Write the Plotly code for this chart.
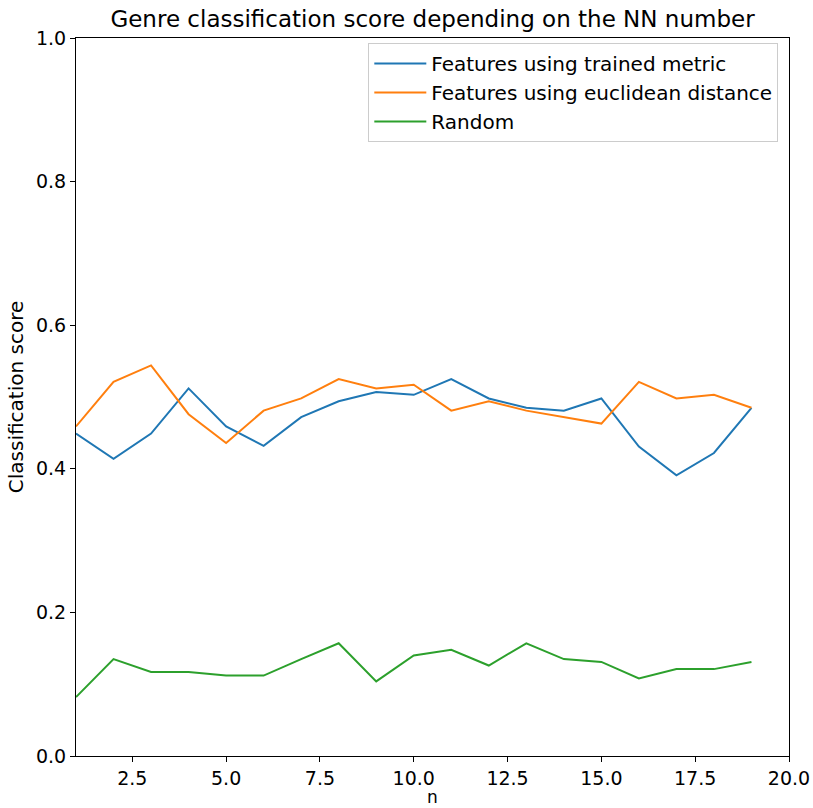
import plotly.graph_objects as go

n = list(range(1, 20))
trained = [0.449, 0.414, 0.449, 0.512, 0.459, 0.432, 0.472, 0.494, 0.507, 0.503,
           0.525, 0.498, 0.485, 0.481, 0.498, 0.431, 0.391, 0.422, 0.485]
euclid = [0.459, 0.521, 0.544, 0.476, 0.436, 0.481, 0.498, 0.525, 0.512, 0.517,
          0.481, 0.494, 0.481, 0.472, 0.463, 0.521, 0.498, 0.503, 0.485]
random_ = [0.082, 0.135, 0.117, 0.117, 0.112, 0.112, 0.135, 0.157, 0.104, 0.140,
           0.148, 0.126, 0.157, 0.135, 0.131, 0.108, 0.121, 0.121, 0.131]

names = ["Features using trained metric", "Features using euclidean distance", "Random"]
colors = ["#1f77b4", "#ff7f0e", "#2ca02c"]

fig = go.Figure()
for name, ys, c in zip(names, [trained, euclid, random_], colors):
    fig.add_trace(go.Scatter(x=n, y=ys, mode="lines", name=name,
                             line=dict(color=c, width=2)))

font = "DejaVu Sans"
axis_common = dict(showline=True, linecolor="black", linewidth=1, mirror=True,
                   ticks="outside", ticklen=5, tickcolor="black", showgrid=False,
                   zeroline=False, automargin=False,
                   tickfont=dict(family=font, size=19, color="black"))

fig.update_layout(
    width=813, height=808,
    margin=dict(l=76, r=24, t=38, b=52),
    plot_bgcolor="white", paper_bgcolor="white",
    title=dict(text="Genre classification score depending on the NN number",
               x=0.5, xref="paper", xanchor="center", y=1 - 19 / 808, yanchor="middle",
               font=dict(family=font, size=23, color="black")),
    xaxis=dict(range=[1, 20], tickvals=[2.5, 5, 7.5, 10, 12.5, 15, 17.5, 20],
               ticktext=["2.5", "5.0", "7.5", "10.0", "12.5", "15.0", "17.5", "20.0"],
               **axis_common),
    yaxis=dict(range=[0, 1], tickvals=[0, 0.2, 0.4, 0.6, 0.8, 1.0],
               ticktext=["0.0", "0.2", "0.4", "0.6", "0.8", "1.0"],
               title=dict(text="Classification score", font=dict(family=font, size=20, color="black"), standoff=6),
               **axis_common),
    legend=dict(x=0.985, y=0.993, xanchor="right", yanchor="top",
                bgcolor="rgba(255,255,255,0.8)", bordercolor="#cccccc", borderwidth=1,
                itemwidth=52,
                font=dict(family=font, size=20, color="black"), tracegroupgap=0),
    showlegend=True,
    annotations=[dict(text="n", x=0.5, xref="paper", y=-(797 - 756) / 718, yref="paper",
                      xanchor="center", yanchor="middle", showarrow=False, borderpad=0,
                      font=dict(family=font, size=17, color="black"))],
)

fig.write_html("out.html", config={"displayModeBar": False},
               post_script="document.body.style.margin='0';document.body.style.overflow='hidden';")
